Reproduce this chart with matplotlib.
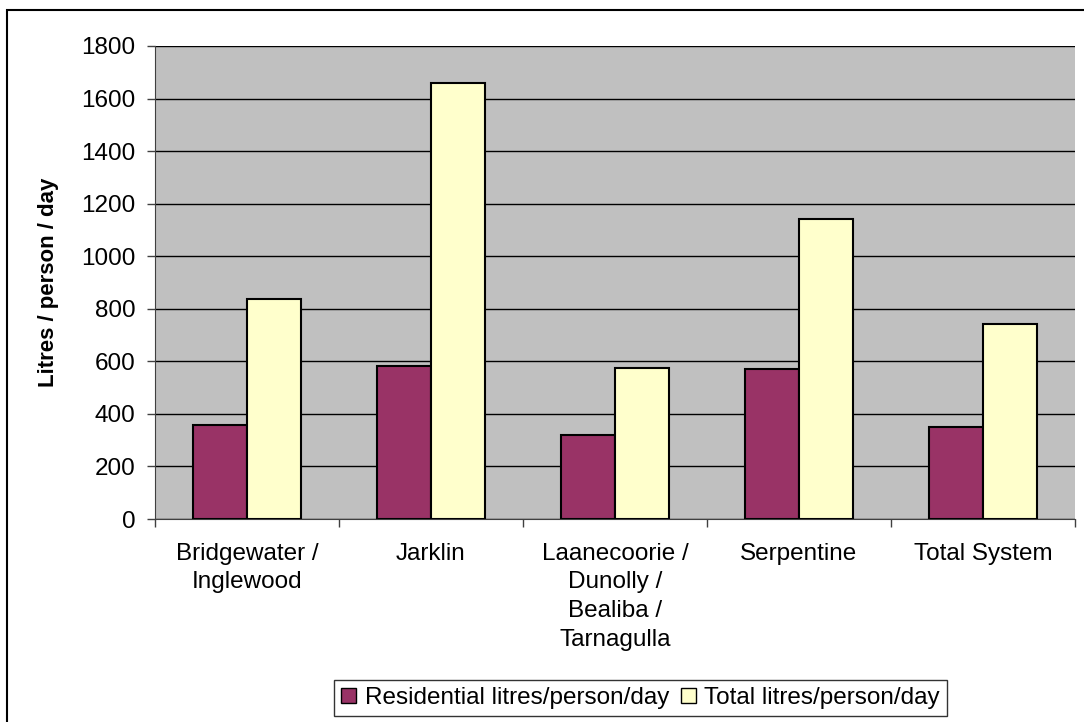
import matplotlib.pyplot as plt
import numpy as np
from matplotlib.patches import Rectangle


CATEGORIES = [
    "Bridgewater /\nInglewood",
    "Jarklin",
    "Laanecoorie /\nDunolly /\nBealiba /\nTarnagulla",
    "Serpentine",
    "Total System",
]

RESIDENTIAL = [358, 581, 320, 570, 351]
TOTAL = [837, 1659, 575, 1141, 741]

SERIES_NAMES = ["Residential litres/person/day", "Total litres/person/day"]
Y_TICKS = [0, 200, 400, 600, 800, 1000, 1200, 1400, 1600, 1800]

RES_COLOR = "#993366"
TOT_COLOR = "#FFFFCC"
PLOT_BG = "#C0C0C0"
FONT_SIZE = 17.5


def main():
    plt.rcParams["font.family"] = ["Liberation Sans", "DejaVu Sans"]

    fig = plt.figure(figsize=(10.84, 7.22), dpi=100)
    ax = fig.add_axes([155 / 1084, 1 - 519 / 722, 920 / 1084, 473 / 722])

    x = np.arange(len(CATEGORIES))
    width = 0.293

    ax.bar(x - width / 2, RESIDENTIAL, width, color=RES_COLOR,
           edgecolor="black", linewidth=1.5, label=SERIES_NAMES[0], zorder=3)
    ax.bar(x + width / 2, TOTAL, width, color=TOT_COLOR,
           edgecolor="black", linewidth=1.5, label=SERIES_NAMES[1], zorder=3)

    ax.set_facecolor(PLOT_BG)
    ax.set_xlim(-0.5, len(CATEGORIES) - 0.5)
    ax.set_ylim(0, 1800)
    ax.set_yticks(Y_TICKS)
    ax.tick_params(axis="y", labelsize=FONT_SIZE, length=6, width=1, color="#404040", pad=8)

    ax.yaxis.grid(True, color="black", linewidth=1, zorder=1)
    ax.set_axisbelow(True)

    # category labels centred, ticks between categories
    ax.set_xticks(np.arange(len(CATEGORIES) + 1) - 0.5)
    ax.set_xticklabels([])
    ax.tick_params(axis="x", length=6, width=1, color="#404040")
    ax.set_xticks(x, minor=True)
    ax.set_xticklabels(CATEGORIES, minor=True, fontsize=FONT_SIZE, linespacing=1.4,
                       va="top")
    ax.tick_params(axis="x", which="minor", length=0, pad=17)

    for side in ["top", "right"]:
        ax.spines[side].set_visible(False)
    ax.spines["left"].set_color("#404040")
    ax.spines["bottom"].set_color("#404040")

    ax.set_ylabel("Litres / person / day", fontsize=16, fontweight="bold", labelpad=16)

    leg = fig.legend(
        loc="center",
        bbox_to_anchor=(0.591, 0.0335),
        ncol=2,
        fontsize=FONT_SIZE,
        frameon=True,
        fancybox=False,
        edgecolor="black",
        handlelength=0.6,
        handleheight=0.6,
        handletextpad=0.35,
        columnspacing=0.5,
        borderpad=0.3,
        borderaxespad=0,
    )
    leg.get_frame().set_linewidth(1.0)
    for patch in leg.get_patches():
        patch.set_linewidth(1.0)

    # outer chart border (right/bottom run off the picture)
    fig.patches.append(Rectangle((7 / 1084, -0.05), 1.2, (722 - 10) / 722 + 0.05,
                                 transform=fig.transFigure, fill=False,
                                 edgecolor="black", linewidth=1.5))

    fig.savefig("out.png", dpi=100, facecolor="white")


if __name__ == "__main__":
    main()
